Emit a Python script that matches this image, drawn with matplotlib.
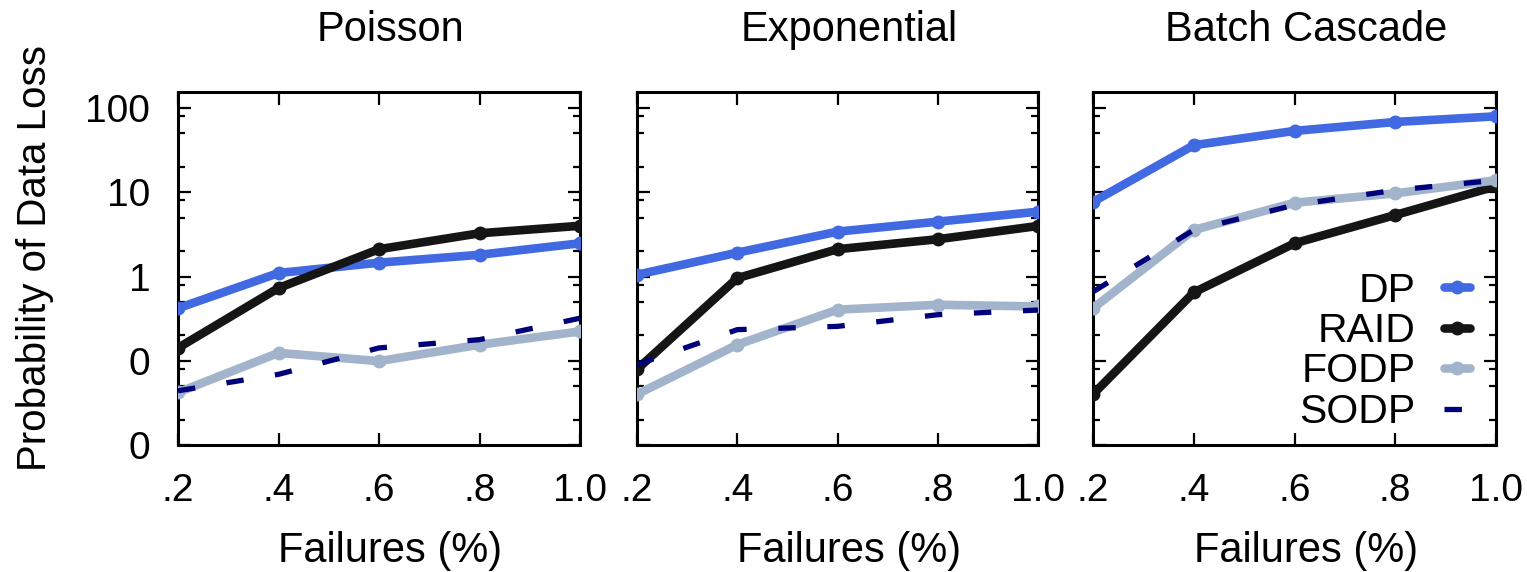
import matplotlib
matplotlib.use("Agg")
import matplotlib.pyplot as plt
from matplotlib.ticker import LogLocator, FixedLocator, FixedFormatter, NullFormatter

plt.rcParams['font.family'] = ['Liberation Sans', 'DejaVu Sans']

failures = [0.2, 0.4, 0.6, 0.8, 1.0]
x_tick_labels = ['.2', '.4', '.6', '.8', '1.0']
y_ticks = [0.01, 0.1, 1, 10, 100]
y_tick_labels = ['0', '0', '1', '10', '100']
panels = ['Poisson', 'Exponential', 'Batch Cascade']
series_names = ['DP', 'RAID', 'FODP', 'SODP']

# Poisson
poisson_dp = [0.42, 1.10, 1.46, 1.81, 2.48]
poisson_raid = [0.142, 0.73, 2.11, 3.26, 4.0]
poisson_fodp = [0.042, 0.124, 0.099, 0.155, 0.223]
poisson_sodp = [0.044, 0.069, 0.142, 0.178, 0.32]
# Exponential
expo_dp = [1.05, 1.92, 3.41, 4.48, 5.88]
expo_raid = [0.079, 0.957, 2.11, 2.77, 3.98]
expo_fodp = [0.040, 0.155, 0.404, 0.462, 0.441]
expo_sodp = [0.090, 0.234, 0.256, 0.352, 0.40]
# Batch Cascade
batch_dp = [7.7, 36.2, 53.5, 68.3, 79.7]
batch_raid = [0.040, 0.647, 2.48, 5.37, 11.8]
batch_fodp = [0.42, 3.57, 7.51, 9.7, 13.9]
batch_sodp = [0.66, 3.57, 7.05, 10.6, 13.9]

data = [
    [poisson_dp, poisson_raid, poisson_fodp, poisson_sodp],
    [expo_dp, expo_raid, expo_fodp, expo_sodp],
    [batch_dp, batch_raid, batch_fodp, batch_sodp],
]

colors = ['#4169e1', '#151515', '#a2b4cb', '#00007a']

W, H = 1527, 572
fig = plt.figure(figsize=(W / 100, H / 100), dpi=100)
lefts = [178, 637, 1093]
widths = [402, 401, 403]
top_px, bot_px = 92, 445
FS = 28
LFS = 30

axes = []
for i, name in enumerate(panels):
    ax = fig.add_axes([lefts[i] / W, 1 - bot_px / H, widths[i] / W, (bot_px - top_px) / H])
    axes.append(ax)
    vals = data[i]
    for j, s in enumerate(series_names):
        if s == 'SODP':
            ax.plot(failures, vals[j], color=colors[j], lw=3.8, dashes=(3.3, 6.0), label=s, zorder=3 + j)
        else:
            ax.plot(failures, vals[j], color=colors[j], lw=6.2, marker='o', ms=9,
                    label=s, zorder=3 + j, solid_joinstyle='round', solid_capstyle='round')
    ax.set_yscale('log')
    ax.set_ylim(0.01, 155)
    ax.set_xlim(0.2, 1.0)
    ax.xaxis.set_major_locator(FixedLocator(failures))
    ax.xaxis.set_major_formatter(FixedFormatter(x_tick_labels))
    ax.yaxis.set_major_locator(FixedLocator(y_ticks))
    if i == 0:
        ax.yaxis.set_major_formatter(FixedFormatter(y_tick_labels))
    else:
        ax.yaxis.set_major_formatter(NullFormatter())
    ax.yaxis.set_minor_locator(LogLocator(base=10, subs=[2, 5, 8]))
    ax.yaxis.set_minor_formatter(NullFormatter())
    ax.tick_params(which='both', direction='in', top=True, right=True, width=1.6, labelsize=FS, pad=20)
    ax.tick_params(which='major', length=9)
    ax.tick_params(which='minor', length=5)
    for sp in ax.spines.values():
        sp.set_linewidth(2.2)
    ax.set_title(name, fontsize=LFS, x=0.528, pad=37)
    ax.set_xlabel('Failures (%)', fontsize=LFS)
    ax.xaxis.set_label_coords(0.528, -0.245)

fig.text(35 / W, 1 - 258 / H, 'Probability of Data Loss', rotation=90, fontsize=29,
         ha='center', va='center')

leg = axes[2].legend(loc='lower right', bbox_to_anchor=(0.935, 0.04), frameon=False,
                     markerfirst=False, fontsize=29.5, handlelength=0.62, handletextpad=0.7,
                     labelspacing=0.06, borderpad=0, borderaxespad=0, numpoints=1)

fig.savefig('out.png', dpi=100)
